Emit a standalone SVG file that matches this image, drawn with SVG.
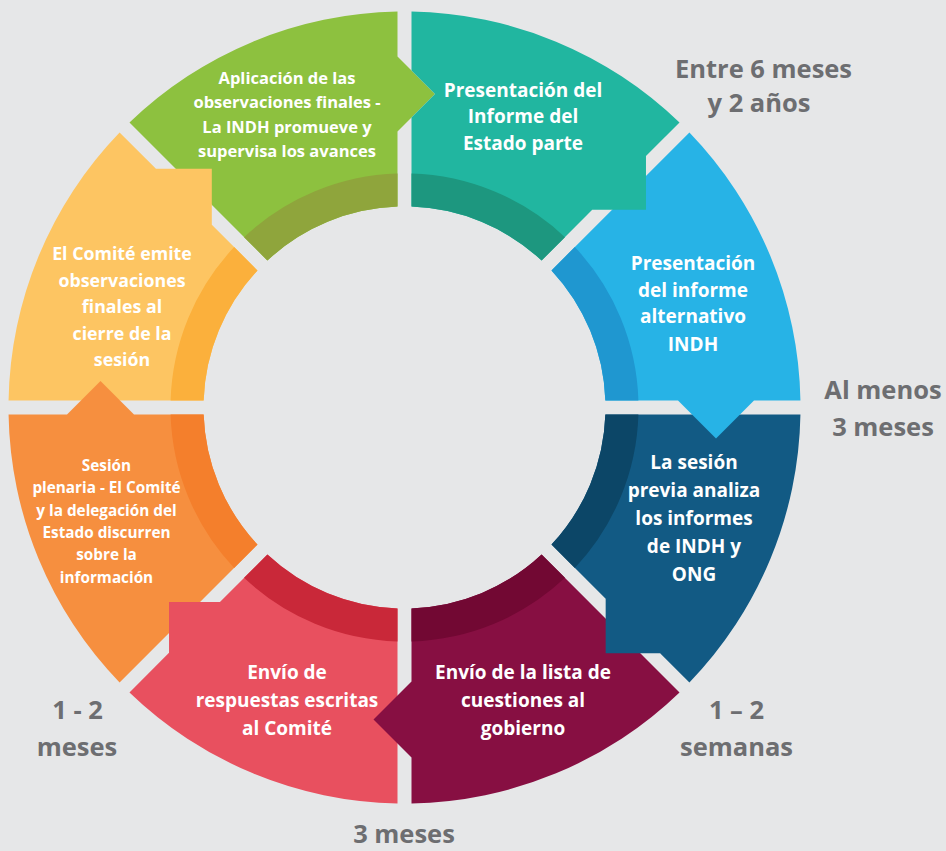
<svg xmlns="http://www.w3.org/2000/svg" width="946" height="851" viewBox="0 0 946 851">
<style>
.t{font-family:"Open Sans","Liberation Sans",sans-serif;font-weight:700;fill:#fff;text-anchor:middle}
.lb{font-family:"Open Sans","Liberation Sans",sans-serif;font-weight:700;fill:#6D6E71;text-anchor:middle;font-size:25.5px}
.s19{font-size:19px}
</style>
<rect width="946" height="851" fill="#E6E7E8"/>
<g id="seg-green">
<path fill="#8DC13F" d="M129.48,122.58 A396,396 0 0 1 397.5,11.56 L397.5,56.5 L435,94 L397.5,131.5 L397.5,206.62 A201,201 0 0 0 267.41,260.51 Z"/>
<path fill="#8FA53C" d="M244.06,237.16 A234,234 0 0 1 397.5,173.6 L397.5,206.62 A201,201 0 0 0 267.41,260.51 Z"/>
<text class="t" font-size="16.5" x="287"><tspan x="287" y="83.5">Aplicación de las</tspan><tspan x="287" y="108.3">observaciones finales -</tspan><tspan x="287" y="132.8">La INDH promueve y</tspan><tspan x="287" y="157">supervisa los avances</tspan></text>
</g>
<g id="seg-lightorange">
<path fill="#FDC562" d="M8.56,400.5 A396,396 0 0 1 119.58,132.48 L155.95,168.85 L211.81,168.85 L211.81,224.71 L257.51,270.41 A201,201 0 0 0 203.62,400.5 Z"/>
<path fill="#FBB03C" d="M170.6,400.5 A234,234 0 0 1 234.16,247.06 L257.51,270.41 A201,201 0 0 0 203.62,400.5 Z"/>
<text class="t" font-size="17.8"><tspan x="122" y="260">El Comité emite</tspan><tspan x="122" y="286.5">observaciones</tspan><tspan x="122" y="313">finales al</tspan><tspan x="122" y="339.5">cierre de la</tspan><tspan x="122" y="366">sesión</tspan></text>
</g>
<g id="seg-orange">
<path fill="#F68F3F" d="M119.58,682.52 A396,396 0 0 1 8.56,414.5 L67,414.5 L100.5,381 L134,414.5 L203.62,414.5 A201,201 0 0 0 257.51,544.59 Z"/>
<path fill="#F47F2C" d="M234.16,567.94 A234,234 0 0 1 170.6,414.5 L203.62,414.5 A201,201 0 0 0 257.51,544.59 Z"/>
<text class="t" font-size="15.3"><tspan x="106.5" y="471">Sesión</tspan><tspan x="106.5" y="493.3">plenaria - El Comité</tspan><tspan x="106.5" y="515.6">y la delegación del</tspan><tspan x="106.5" y="537.9">Estado discurren</tspan><tspan x="106.5" y="560.2">sobre la</tspan><tspan x="106.5" y="582.5">información</tspan></text>
</g>
<g id="seg-red">
<path fill="#E8505F" d="M397.5,803.44 A396,396 0 0 1 129.48,692.42 L169.03,652.87 L169.03,601.95 L219.95,601.95 L267.41,554.49 A201,201 0 0 0 397.5,608.38 Z"/>
<path fill="#C92839" d="M397.5,641.4 A234,234 0 0 1 244.06,577.84 L267.41,554.49 A201,201 0 0 0 397.5,608.38 Z"/>
<text class="t s19"><tspan x="287" y="679">Envío de</tspan><tspan x="287" y="707">respuestas escritas</tspan><tspan x="287" y="735">al Comité</tspan></text>
</g>
<g id="seg-maroon">
<path fill="#870F42" d="M679.52,692.42 A396,396 0 0 1 411.5,803.44 L411.5,757.5 L373.5,719.5 L411.5,681.5 L411.5,608.38 A201,201 0 0 0 541.59,554.49 Z"/>
<path fill="#720833" d="M564.94,577.84 A234,234 0 0 1 411.5,641.4 L411.5,608.38 A201,201 0 0 0 541.59,554.49 Z"/>
<text class="t s19"><tspan x="523" y="679">Envío de la lista de</tspan><tspan x="523" y="707">cuestiones al</tspan><tspan x="523" y="735">gobierno</tspan></text>
</g>
<g id="seg-darkblue">
<path fill="#125A84" d="M800.44,414.5 A396,396 0 0 1 689.42,682.52 L660.12,653.22 L605.67,653.22 L605.67,598.77 L551.49,544.59 A201,201 0 0 0 605.38,414.5 Z"/>
<path fill="#0C4667" d="M638.4,414.5 A234,234 0 0 1 574.84,567.94 L551.49,544.59 A201,201 0 0 0 605.38,414.5 Z"/>
<text class="t s19"><tspan x="694" y="469.3">La sesión</tspan><tspan x="694" y="497.3">previa analiza</tspan><tspan x="694" y="525.3">los informes</tspan><tspan x="694" y="553.3">de INDH y</tspan><tspan x="694" y="581">ONG</tspan></text>
</g>
<g id="seg-blue">
<path fill="#27B3E6" d="M689.42,132.48 A396,396 0 0 1 800.44,400.5 L754,400.5 L716,438.5 L678,400.5 L605.38,400.5 A201,201 0 0 0 551.49,270.41 Z"/>
<path fill="#1F97D0" d="M574.84,247.06 A234,234 0 0 1 638.4,400.5 L605.38,400.5 A201,201 0 0 0 551.49,270.41 Z"/>
<text class="t s19"><tspan x="693" y="270">Presentación</tspan><tspan x="693" y="296.7">del informe</tspan><tspan x="693" y="323.4">alternativo</tspan><tspan x="693" y="350.5">INDH</tspan></text>
</g>
<g id="seg-teal">
<path fill="#21B6A0" d="M411.5,11.56 A396,396 0 0 1 679.52,122.58 L645.98,156.12 L645.98,209.86 L592.24,209.86 L541.59,260.51 A201,201 0 0 0 411.5,206.62 L411.5,117.5 L435,94 L411.5,70.5 Z"/>
<path fill="#1D977F" d="M411.5,173.6 A234,234 0 0 1 564.94,237.16 L541.59,260.51 A201,201 0 0 0 411.5,206.62 Z"/>
<text class="t s19"><tspan x="523" y="96.7">Presentación del</tspan><tspan x="523" y="123.3">Informe del</tspan><tspan x="523" y="150">Estado parte</tspan></text>
</g>
<g id="labels">
<text class="lb"><tspan x="763.5" y="78.3">Entre 6 meses</tspan><tspan x="759" y="111.7">y 2 años</tspan></text>
<text class="lb"><tspan x="883" y="399.3">Al menos</tspan><tspan x="883" y="436">3 meses</tspan></text>
<text class="lb"><tspan x="736.5" y="719">1 – 2</tspan><tspan x="736.5" y="756">semanas</tspan></text>
<text class="lb"><tspan x="77.5" y="719">1 - 2</tspan><tspan x="77" y="756">meses</tspan></text>
<text class="lb"><tspan x="404" y="843">3 meses</tspan></text>
</g>
</svg>
